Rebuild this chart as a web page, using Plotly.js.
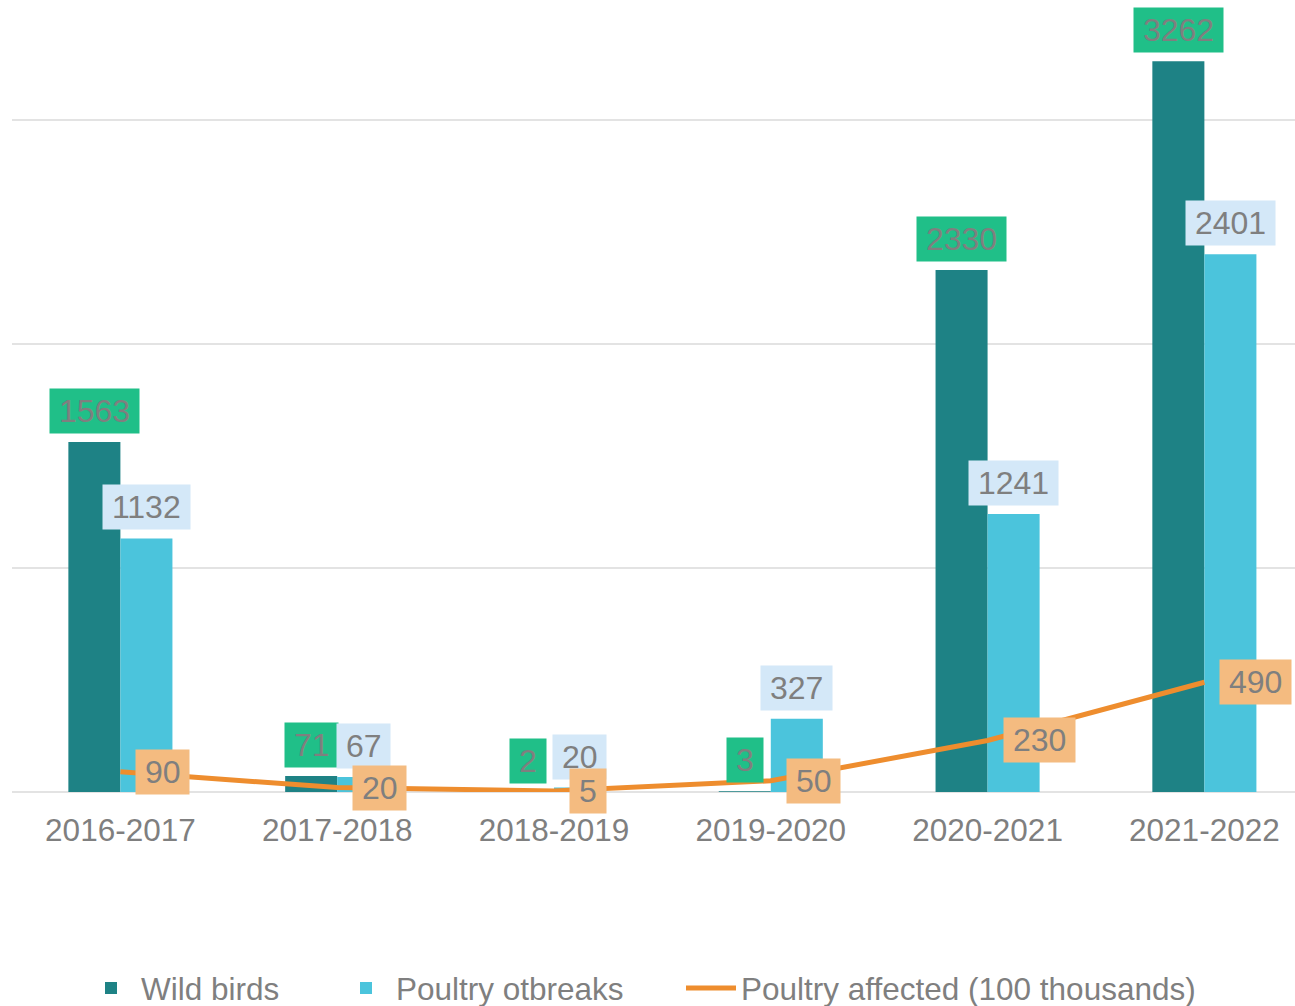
<!DOCTYPE html>
<html>
<head>
<meta charset="utf-8">
<script src="https://cdn.plot.ly/plotly-3.0.1.min.js"></script>
<style>html,body{margin:0;padding:0;background:#fff;}#chart{width:1295px;height:1006px;}</style>
</head>
<body>
<div id="chart"></div>
<script>
const seasons = ["2016-2017", "2017-2018", "2018-2019", "2019-2020", "2020-2021", "2021-2022"];
const wildBirds = [1563, 71, 2, 3, 2330, 3262];
const poultryOutbreaks = [1132, 67, 20, 327, 1241, 2401];
const poultryAffected = [90, 20, 5, 50, 230, 490];
const seriesNames = ["Wild birds", "Poultry otbreaks", "Poultry affected (100 thousands)"];

const FONT = "Liberation Sans, Arial, sans-serif";
const GRAY = "#7f7f7f";
const C_WILD = "#1e8285";
const C_POUL = "#4bc4dc";
const C_LINE = "#ee8d2e";
const BG_WILD = "#20bf88";
const BG_POUL = "#d4e8f8";
const BG_LINE = "#f4bb80";
const NB = "\u00A0";

const traces = [
  {type: "bar", name: seriesNames[0], x: seasons, y: wildBirds, marker: {color: C_WILD}, legend: "legend", hoverinfo: "x+y"},
  {type: "bar", name: seriesNames[1], x: seasons, y: poultryOutbreaks, marker: {color: C_POUL}, legend: "legend2", hoverinfo: "x+y"},
  {type: "scatter", mode: "lines", name: seriesNames[2], x: seasons, y: poultryAffected, line: {color: C_LINE, width: 5}, legend: "legend3", hoverinfo: "x+y"}
];

const labelFont = {family: FONT, size: 32, color: GRAY};
const annotations = [];
seasons.forEach((s, i) => {
  annotations.push({x: s, y: wildBirds[i], xref: "x", yref: "y", text: NB + wildBirds[i] + NB, showarrow: false,
    xanchor: "center", yanchor: "bottom", xshift: -26, yshift: 8, bgcolor: BG_WILD, borderpad: 0, height: 44,
    font: labelFont});
  annotations.push({x: s, y: poultryOutbreaks[i], xref: "x", yref: "y", text: NB + poultryOutbreaks[i] + NB, showarrow: false,
    xanchor: "center", yanchor: "bottom", xshift: 26, yshift: 8, bgcolor: BG_POUL, borderpad: 0, height: 44,
    font: labelFont});
});
seasons.forEach((s, i) => {
  annotations.push({x: s, y: poultryAffected[i], xref: "x", yref: "y", text: NB + poultryAffected[i] + NB, showarrow: false,
    xanchor: "left", yanchor: "middle", xshift: 15, bgcolor: BG_LINE, borderpad: 0, height: 44,
    font: labelFont});
});

const legendBase = {orientation: "h", yref: "container", yanchor: "middle", xanchor: "left", y: 1 - 988 / 1006, bgcolor: "rgba(0,0,0,0)",
  font: {family: FONT, size: 31.5, color: GRAY}, itemwidth: 50};

const layout = {
  width: 1295, height: 1006,
  margin: {l: 12, r: 0, t: 0, b: 214},
  paper_bgcolor: "#ffffff", plot_bgcolor: "#ffffff",
  barmode: "group", bargap: 0.52, bargroupgap: 0,
  font: {family: FONT, size: 31.5, color: GRAY},
  showlegend: true,
  xaxis: {type: "category", range: [-0.5, 5.418], showgrid: false, zeroline: false, showline: false, ticks: "",
    ticklabelstandoff: 16, automargin: false,
    tickfont: {family: FONT, size: 31.5, color: GRAY}, fixedrange: true},
  yaxis: {range: [0, 3536], dtick: 1000, tick0: 0, showticklabels: false, showgrid: true, gridcolor: "#e3e3e3", gridwidth: 2,
    zeroline: true, zerolinecolor: "#e3e3e3", zerolinewidth: 2, fixedrange: true, automargin: false},
  legend: Object.assign({}, legendBase, {x: (81 - 12) / 1283}),
  legend2: Object.assign({}, legendBase, {x: (336 - 12) / 1283}),
  legend3: Object.assign({}, legendBase, {x: (681 - 12) / 1283}),
  annotations: annotations
};

Plotly.newPlot("chart", traces, layout, {displayModeBar: false, staticPlot: true});
</script>
</body>
</html>
